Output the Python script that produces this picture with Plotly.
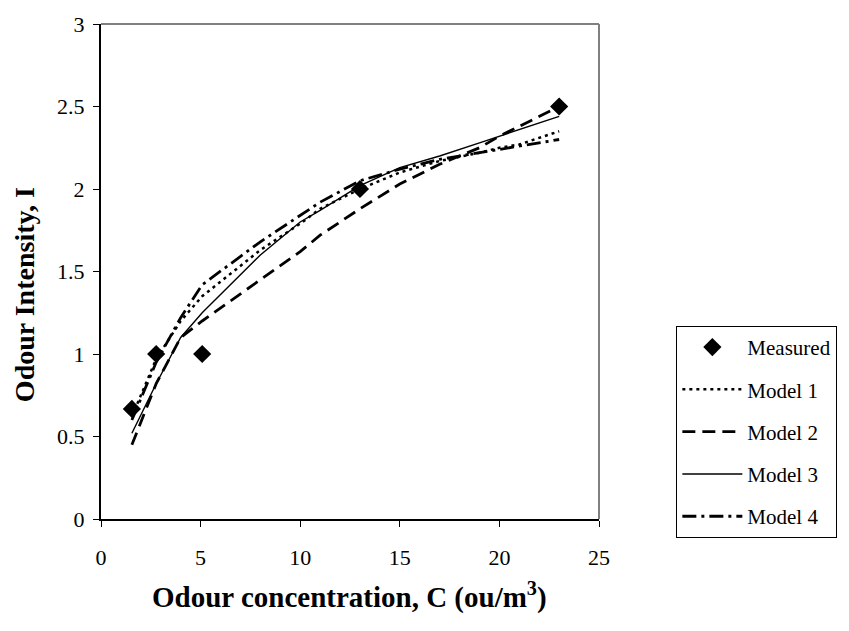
import plotly.graph_objects as go

# Measured odour intensity vs. concentration
conc_measured = [1.55, 2.77, 5.08, 13.0, 23.0]
intensity_measured = [0.667, 1.0, 1.0, 2.0, 2.5]

# Concentrations at which the models are evaluated
conc_model = [1.55, 2.77, 4.0, 5.08, 8.0, 10.0, 11.0, 13.0, 15.0, 17.0, 19.0, 20.0, 21.0, 23.0]

model1 = [0.62, 0.97, 1.20, 1.35, 1.63, 1.79, 1.88, 2.00, 2.10, 2.17, 2.22, 2.25, 2.27, 2.35]
model2 = [0.45, 0.82, 1.10, 1.20, 1.45, 1.62, 1.72, 1.88, 2.03, 2.15, 2.25, 2.32, 2.38, 2.50]
model3 = [0.52, 0.82, 1.10, 1.25, 1.60, 1.80, 1.87, 2.02, 2.13, 2.20, 2.28, 2.32, 2.36, 2.44]
model4 = [0.60, 0.95, 1.22, 1.42, 1.68, 1.84, 1.92, 2.05, 2.12, 2.18, 2.22, 2.24, 2.26, 2.30]

x_ticks = [0, 5, 10, 15, 20, 25]
y_ticks = [0, 0.5, 1, 1.5, 2, 2.5, 3]

FONT = "Liberation Serif"

W, H = 849, 631
ML, MR, MT, MB = 101, 233, 14, 112
PW, PH = W - ML - MR, H - MT - MB


def px_x(p):
    """Pixel column -> paper x."""
    return (p - ML) / PW


def px_y(p):
    """Pixel row -> paper y."""
    return (H - MB - p) / PH


fig = go.Figure()

fig.add_trace(go.Scatter(
    x=conc_measured, y=intensity_measured, mode="markers", name="Measured",
    marker=dict(symbol="diamond", size=14, color="black"),
    legendgroup="a",
))

styles = [
    ("Model 1", model1, "3px,4px", 2.5),
    ("Model 2", model2, "13px,7px", 2.8),
    ("Model 3", model3, "solid", 1.4),
    ("Model 4", model4, "14px,5px,3px,5px", 2.8),
]
for i, (name, vals, dash, w) in enumerate(styles):
    fig.add_trace(go.Scatter(
        x=conc_model, y=vals, mode="lines", name=name,
        line=dict(color="black", dash=dash, width=w),
        legendgroup="g%d" % i,
    ))

fig.update_layout(
    width=W, height=H,
    margin=dict(l=ML, r=MR, t=MT, b=MB),
    paper_bgcolor="white", plot_bgcolor="white",
    font=dict(family=FONT, color="black", size=21),
    showlegend=True,
    legend=dict(
        x=px_x(696), y=px_y(322), xanchor="left", yanchor="top",
        bordercolor="black", borderwidth=1, bgcolor="white",
        font=dict(family=FONT, size=21, color="black"),
        tracegroupgap=12, itemwidth=60,
    ),
    xaxis=dict(
        range=[0, 25], tickvals=x_ticks, ticktext=[str(v) for v in x_ticks],
        showgrid=False, zeroline=False,
        showline=True, linecolor="black", linewidth=2,
        ticks="outside", ticklen=6, tickcolor="black", tickwidth=1,
        tickfont=dict(family=FONT, size=22),
        ticklabelstandoff=12,
    ),
    yaxis=dict(
        range=[0, 3], tickvals=y_ticks, ticktext=["0", "0.5", "1", "1.5", "2", "2.5", "3"],
        showgrid=False, zeroline=False,
        showline=True, linecolor="black", linewidth=2,
        ticks="outside", ticklen=6, tickcolor="black", tickwidth=1,
        tickfont=dict(family=FONT, size=22),
        ticklabelstandoff=4,
    ),
    annotations=[
        dict(text="<b>Odour concentration, C (ou/m<sup>3</sup>)</b>",
             xref="paper", yref="paper", x=px_x(358), y=px_y(597),
             xanchor="center", yanchor="middle", showarrow=False,
             font=dict(family=FONT, size=29)),
        dict(text="<b>Odour Intensity, I</b>",
             xref="paper", yref="paper", x=px_x(22), y=px_y(290),
             xanchor="center", yanchor="middle", showarrow=False, textangle=-90,
             font=dict(family=FONT, size=28)),
    ],
)

# Top and right frame of the plot area in grey
fig.add_shape(type="line", xref="paper", yref="paper", x0=0, x1=1, y0=1, y1=1,
              line=dict(color="#808080", width=2))
fig.add_shape(type="line", xref="paper", yref="paper", x0=1, x1=1, y0=0, y1=1,
              line=dict(color="#808080", width=2))

fig.write_html("out.html")
